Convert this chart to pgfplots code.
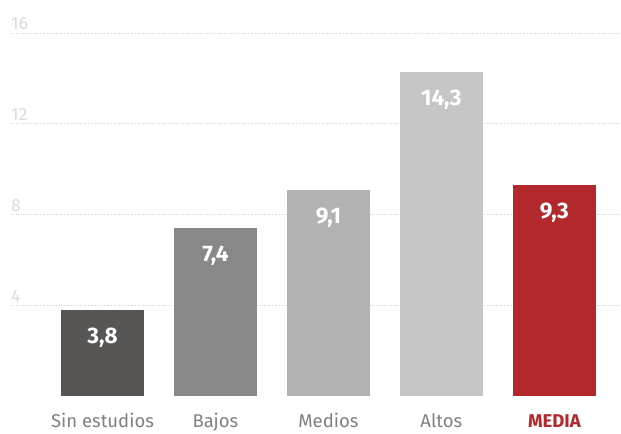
\documentclass[border=0pt]{standalone}
\usepackage{pgfplots}
\pgfplotsset{compat=1.18}
\usepackage{fontspec}
\setmainfont{Fira Sans}
\definecolor{c1}{HTML}{575654}
\definecolor{c2}{HTML}{888888}
\definecolor{c3}{HTML}{B2B2B2}
\definecolor{c4}{HTML}{C6C6C6}
\definecolor{mediared}{HTML}{B3282D}
\definecolor{ticklab}{HTML}{DADADA}
\definecolor{catlab}{HTML}{808080}
\definecolor{gridc}{HTML}{D2D2D2}
\begin{document}
\begin{tikzpicture}
\begin{axis}[
  scale only axis,
  width=610bp, height=363bp,
  xmin=-0.81, xmax=4.59,
  ymin=0, ymax=16,
  axis line style={draw=none},
  clip=false,
  ybar, bar width=83bp, bar shift=0pt,
  xtick={0,1,2,3,4},
  xticklabels={Sin estudios, Bajos, Medios, Altos, {\color{mediared}\bfseries MEDIA}},
  xticklabel style={font=\fontsize{18.5bp}{21bp}\selectfont, text=catlab, anchor=base, inner sep=0pt, yshift=-31bp},
  ytick={4,8,12,16},
  yticklabel style={font=\fontsize{17.5bp}{20bp}\selectfont, text=ticklab, anchor=south west, inner sep=0pt, xshift=0bp, yshift=3bp},
  /pgf/number format/assume math mode=true,
  major tick length=0pt,
  ymajorgrids,
  grid style={gridc, dotted, line width=0.8pt},
  nodes near coords={\pgfmathprintnumber[fixed,fixed zerofill,precision=1,use comma]{\pgfplotspointmeta}},
  nodes near coords style={font=\fontsize{22.5bp}{25bp}\selectfont\bfseries, text=white, anchor=center, yshift=-28bp},
]
\addplot[fill=c1, draw=none] coordinates {(0,3.8)};
\addplot[fill=c2, draw=none] coordinates {(1,7.4)};
\addplot[fill=c3, draw=none] coordinates {(2,9.1)};
\addplot[fill=c4, draw=none] coordinates {(3,14.3)};
\addplot[fill=mediared, draw=none] coordinates {(4,9.3)};
\coordinate (bl) at (rel axis cs:0,0);
\end{axis}
\pgfresetboundingbox
\path (bl) ++(-11bp,-38bp) rectangle ++(621bp,434bp);
\end{tikzpicture}
\end{document}
